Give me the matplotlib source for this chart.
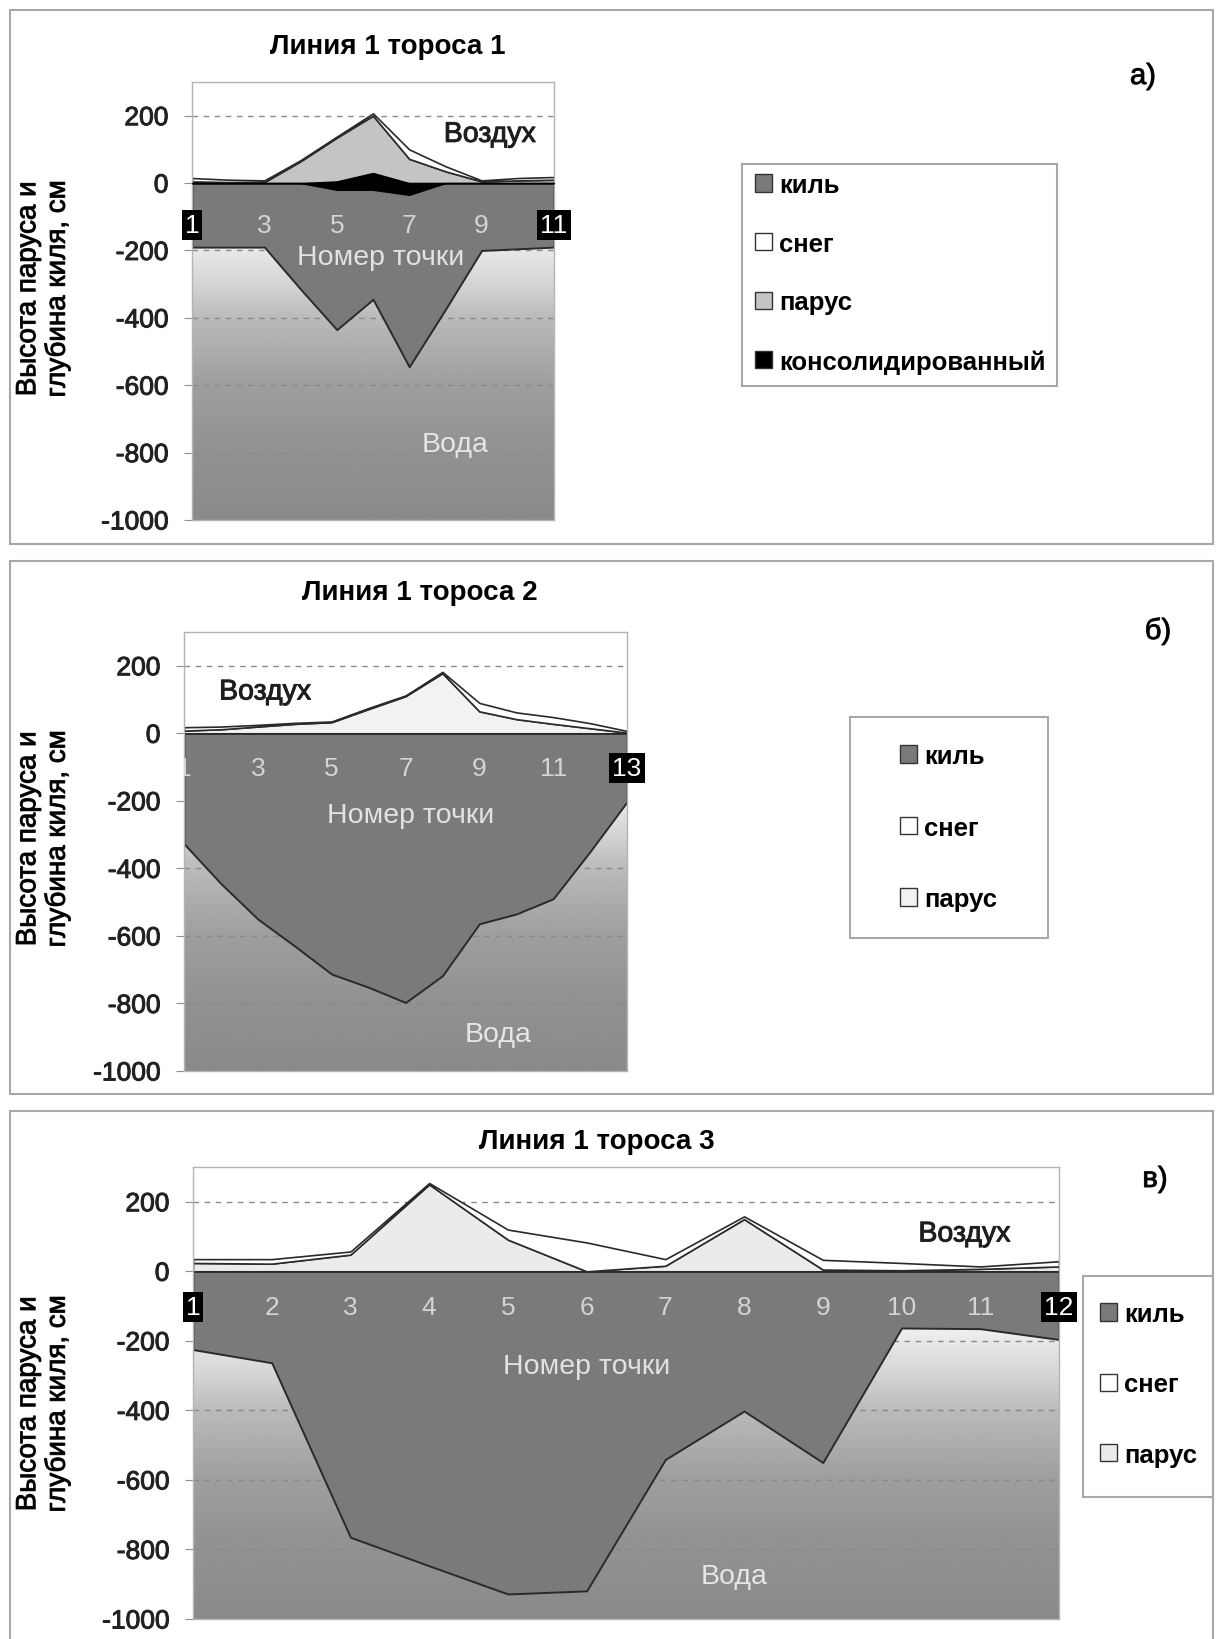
import numpy as np
import matplotlib.pyplot as plt
import matplotlib.patheffects as pe
from matplotlib.patches import Patch, Rectangle

plt.rcParams['font.family'] = ['Liberation Sans', 'DejaVu Sans']
plt.rcParams['axes.unicode_minus'] = False

# Линия 1 тороса 1
pts1 = np.arange(1, 12)
keel1 = [-190, -190, -190, -315, -435, -345, -545, -375, -200, -195, -190]
sail1 = [5, 3, 3, 65, 135, 200, 72, 35, 5, 8, 10]
snow1 = [10, 7, 5, 3, 3, 7, 28, 15, 3, 7, 8]
cons_top1 = [0, 0, 0, 0, 5, 30, 0, 0, 0, 0, 0]
cons_bot1 = [0, 0, 0, 0, -20, -20, -35, 0, 0, 0, 0]

# Линия 1 тороса 2
pts2 = np.arange(1, 14)
keel2 = [-327, -445, -550, -630, -713, -752, -797, -718, -564, -535, -490, -350, -203]
sail2 = [8, 12, 20, 28, 33, 72, 110, 178, 65, 42, 28, 15, 2]
snow2 = [10, 8, 5, 3, 2, 3, 2, 4, 25, 20, 20, 15, 5]

# Линия 1 тороса 3
pts3 = np.arange(1, 13)
keel3 = [-225, -263, -765, -847, -928, -919, -541, -402, -550, -163, -165, -196]
sail3 = [24, 22, 48, 250, 91, 0, 16, 150, 5, 3, 7, 14]
snow3 = [11, 13, 9, 4, 29, 83, 19, 8, 28, 21, 7, 15]

yticks = list(range(-1000, 201, 200))
ylab = 'Высота паруса и\nглубина киля, см'

W, H = 1222, 1640
FS_TICK = 19
FS_IN = 20.5
FS_TITLE = 20
FS_LEG = 18.5
KEEL = '#7a7a7a'
EDGE = '#2a2a2a'
heavy = [pe.withStroke(linewidth=0.7, foreground='#222222')]

fig = plt.figure(figsize=(W / 100, H / 100), dpi=100)


def frect(x0, y0, x1, y1):
    return [x0 / W, 1 - y1 / H, (x1 - x0) / W, (y1 - y0) / H]


def box(x0, y0, x1, y1, color='#a8a8a8'):
    fig.add_artist(Rectangle((x0 / W, 1 - y1 / H), (x1 - x0) / W, (y1 - y0) / H,
                             transform=fig.transFigure, fill=False, ec=color, lw=1.5))


def panel(rect, pts, keel, sail, snow, sail_color, step, lab_y,
          air_xy, num_xy, water_xy, clip_first=False, cons=None):
    ax = fig.add_axes(frect(*rect))
    # water gradient, white in the air
    ys = np.linspace(300, -1000, 500)
    shade = np.interp(ys, [-1000, -800, -600, -400, -300, -200, -100, 300],
                      [0.54, 0.57, 0.62, 0.73, 0.83, 0.91, 1.0, 1.0])
    ax.imshow(shade[:, None], cmap='gray', vmin=0, vmax=1, aspect='auto',
              extent=[pts[0], pts[-1], -1000, 300], zorder=0, interpolation='bilinear')

    sail = np.asarray(sail, float)
    top = sail + np.asarray(snow, float)
    ax.fill_between(pts, keel, 0, facecolor=KEEL, edgecolor=EDGE, lw=1.4, zorder=2)
    ax.fill_between(pts, 0, sail, facecolor=sail_color, edgecolor=EDGE, lw=1.2, zorder=2)
    ax.fill_between(pts, sail, top, facecolor='white', edgecolor=EDGE, lw=1.2, zorder=2)
    if cons is not None:
        ax.fill_between(pts, cons[0], cons[1], facecolor='black', edgecolor='black',
                        lw=1, zorder=3)

    ax.set_xlim(pts[0], pts[-1])
    ax.set_ylim(-1000, 300)
    ax.set_xticks([])
    ax.set_yticks(yticks)
    ax.yaxis.grid(True, linestyle=(0, (4, 4)), color='#8a8a8a', lw=1)
    ax.set_axisbelow(True)
    ax.tick_params(axis='y', length=6, color='#909090', labelsize=FS_TICK, pad=11,
                   labelcolor='#222222')
    for lbl in ax.get_yticklabels():
        lbl.set_path_effects(heavy)
    for s in ax.spines.values():
        s.set_color('#b4b4b4')
        s.set_linewidth(1)

    for p in list(pts[::step]):
        end = p == pts[0] or p == pts[-1]
        kw = dict(ha='center', va='center', fontsize=FS_TICK, zorder=5)
        if end and not (clip_first and p == pts[0]):
            ax.text(p, lab_y, str(p), color='white', clip_on=False,
                    bbox=dict(boxstyle='square,pad=0.12', fc='black', ec='none'), **kw)
        else:
            ax.text(p, lab_y, str(p), color='#d4d4d4', clip_on=True, **kw)

    ax.text(*air_xy, 'Воздух', ha='center', va='center', fontsize=FS_IN,
            color='#1e1e1e', zorder=5, path_effects=heavy)
    ax.text(*num_xy, 'Номер точки', ha='center', va='center', fontsize=FS_IN,
            color='#e2e2e2', zorder=5)
    ax.text(*water_xy, 'Вода', ha='center', va='center', fontsize=FS_IN,
            color='#e6e6e6', zorder=5)
    return ax


def legend(handles, labels, x, y, spacing):
    fig.legend(handles, labels, loc='upper left', bbox_to_anchor=(x / W, 1 - y / H),
               frameon=False, prop=dict(size=FS_LEG, weight='bold'), handlelength=0.65,
               handleheight=0.65, handletextpad=0.3, labelspacing=spacing,
               borderpad=0, borderaxespad=0)


def titles(title, tx, ty, letter, lx, ly, yc):
    fig.text(tx / W, 1 - ty / H, title, ha='center', va='center',
             fontsize=FS_TITLE, fontweight='bold')
    fig.text(lx / W, 1 - ly / H, letter, ha='center', va='center', fontsize=21,
             path_effects=heavy)
    fig.text(43 / W, 1 - yc / H, ylab, rotation=90, ha='center', va='center',
             multialignment='center', fontsize=20, linespacing=1.15, path_effects=heavy)


# panel a
box(10, 11, 1213, 545)
panel((192, 83, 554, 521), pts1, keel1, sail1, snow1, '#c4c4c4', 2, -125,
      (9.23, 143), (6.2, -220), (8.27, -774), cons=(cons_bot1, cons_top1))
titles('Линия 1 тороса 1', 388, 47, 'а)', 1143, 77, 290)
box(742, 165, 1057, 387)
legend([Patch(fc=KEEL, ec='#333333'), Patch(fc='white', ec='#333333'),
        Patch(fc='#c4c4c4', ec='#333333'), Patch(fc='black', ec='#333333')],
       ['киль', 'снег', 'парус', 'консолидированный'], 755, 174, 1.35)

# panel b
box(10, 562, 1213, 1095)
panel((184, 633, 627, 1072), pts2, keel2, sail2, snow2, '#f2f2f2', 2, -103,
      (3.2, 121), (7.15, -242), (9.5, -890), clip_first=True)
titles('Линия 1 тороса 2', 420, 593, 'б)', 1158, 632, 840)
box(850, 718, 1048, 939)
legend([Patch(fc=KEEL, ec='#333333'), Patch(fc='white', ec='#333333'),
        Patch(fc='#f2f2f2', ec='#333333')],
       ['киль', 'снег', 'парус'], 900, 745, 1.85)

# panel c
box(10, 1112, 1213, 1645)
panel((193, 1168, 1059, 1620), pts3, keel3, sail3, snow3, '#ebebeb', 1, -103,
      (10.8, 106), (6.0, -273), (7.87, -876))
titles('Линия 1 тороса 3', 597, 1142, 'в)', 1155, 1180, 1405)
box(1083, 1277, 1213, 1498)
legend([Patch(fc=KEEL, ec='#333333'), Patch(fc='white', ec='#333333'),
        Patch(fc='#ebebeb', ec='#333333')],
       ['киль', 'снег', 'парус'], 1100, 1303, 1.8)

fig.savefig('out.png', dpi=100, facecolor='white')
